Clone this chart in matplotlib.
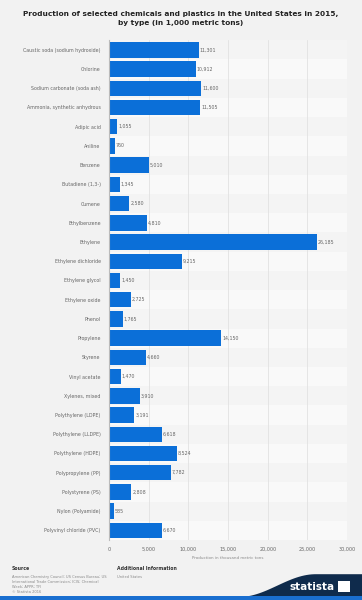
import numpy as np
import matplotlib
matplotlib.use('Agg')
import matplotlib.pyplot as plt
import matplotlib.ticker
from matplotlib.patches import Polygon, Rectangle

categories = [
    'Caustic soda (sodium hydroxide)', 'Chlorine', 'Sodium carbonate (soda ash)',
    'Ammonia, synthetic anhydrous', 'Adipic acid', 'Aniline', 'Benzene',
    'Butadiene (1,3-)', 'Cumene', 'Ethylbenzene', 'Ethylene',
    'Ethylene dichloride', 'Ethylene glycol', 'Ethylene oxide', 'Phenol',
    'Propylene', 'Styrene', 'Vinyl acetate', 'Xylenes, mixed',
    'Polythylene (LDPE)', 'Polythylene (LLDPE)', 'Polythylene (HDPE)',
    'Polypropylene (PP)', 'Polystyrene (PS)', 'Nylon (Polyamide)',
    'Polyvinyl chloride (PVC)',
]
values = [11301, 10912, 11600, 11505, 1055, 760, 5010, 1345, 2580, 4810,
          26185, 9215, 1450, 2725, 1765, 14150, 4660, 1470, 3910, 3191,
          6618, 8524, 7782, 2808, 585, 6670]
xticks = [0, 5000, 10000, 15000, 20000, 25000, 30000]

title = ('Production of selected chemicals and plastics in the United States in 2015,\n'
         'by type (in 1,000 metric tons)')

BG = '#f2f2f2'
BAR = '#0b6fd8'
TXT = '#666666'

fig = plt.figure(figsize=(3.62, 6.0), dpi=100, facecolor=BG)
ax = fig.add_axes([0.301, 0.100, 0.658, 0.833])
ax.set_facecolor(BG)

n = len(categories)
y = np.arange(n)
for i in range(n):
    ax.axhspan(i - 0.5, i + 0.5, color='#f9f9f9' if i % 2 else '#f4f4f4',
               zorder=0, lw=0)

ax.barh(y, values, height=0.8, color=BAR, zorder=3)
for yi, v in zip(y, values):
    ax.text(v + 120, yi, '{:,}'.format(v), va='center', ha='left',
            fontsize=3.4, color=TXT, zorder=4)

ax.set_ylim(n - 0.5, -0.5)
ax.set_xlim(0, 30000)
ax.set_yticks(y)
ax.set_yticklabels(categories, fontsize=3.4, color=TXT)
ax.set_xticks(xticks)
ax.xaxis.set_major_formatter(matplotlib.ticker.FuncFormatter(lambda v, p: '{:,}'.format(int(v))))
ax.tick_params(axis='x', labelsize=3.5, labelcolor=TXT, length=0, pad=5)
ax.tick_params(axis='y', length=0, pad=6)
ax.grid(axis='x', color='#e2e2e2', lw=0.6, zorder=1)
for s in ['top', 'right', 'bottom']:
    ax.spines[s].set_visible(False)
ax.spines['left'].set_color('#bbbbbb')
ax.spines['left'].set_linewidth(0.8)
ax.spines['left'].set_zorder(5)
ax.set_xlabel('Production in thousand metric tons', fontsize=2.9, color='#888888', labelpad=3)

fig.text(0.5, 0.982, title, ha='center', va='top', fontsize=5.3,
         fontweight='bold', color='#222222', linespacing=1.55)

# footer
fig.text(0.033, 0.052, 'Source', fontsize=3.3, fontweight='bold', color='#333333', va='center')
fig.text(0.033, 0.042,
         'American Chemistry Council; US Census Bureau; US\n'
         'International Trade Commission; ICIS; Chemical\n'
         'Week; APPR; TFI\n\u00a9 Statista 2016',
         fontsize=2.65, color='#888888', va='top', linespacing=1.35)
fig.text(0.323, 0.052, 'Additional Information', fontsize=3.3, fontweight='bold',
         color='#333333', va='center')
fig.text(0.323, 0.042, 'United States', fontsize=2.65, color='#888888', va='top')

t = np.linspace(0, 1, 50)
xs = 0.66 + 0.34 * t
ys = 0.005 + 0.038 * (1 - np.cos(np.pi * np.clip(t * 1.6, 0, 1))) / 2
pts = np.column_stack([np.r_[xs, 1.0, 0.66], np.r_[ys, 0.005, 0.005]])
fig.patches.append(Polygon(pts, closed=True, transform=fig.transFigure,
                           facecolor='#0f2b4c', edgecolor='none'))
fig.patches.append(Rectangle((0, 0), 1, 0.006, transform=fig.transFigure,
                             facecolor='#1a6fd0', edgecolor='none'))
fig.text(0.925, 0.022, 'statista', fontsize=7.5, fontweight='bold', color='white',
         ha='right', va='center')
fig.patches.append(Rectangle((0.935, 0.014), 0.033, 0.018, transform=fig.transFigure,
                             facecolor='white', edgecolor='none'))

fig.savefig('out.png', dpi=100, facecolor=BG)
